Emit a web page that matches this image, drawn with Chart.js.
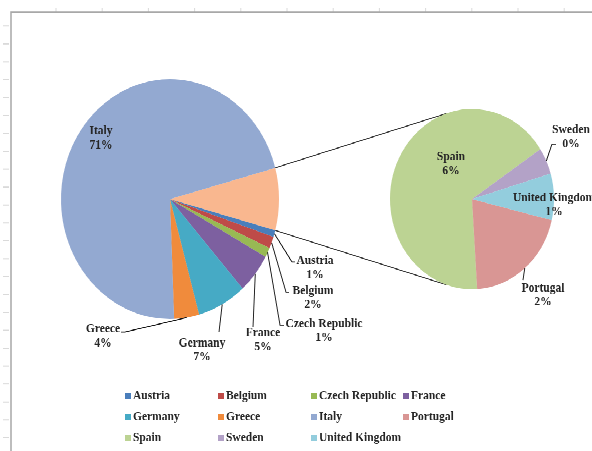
<!DOCTYPE html>
<html>
<head>
<meta charset="utf-8">
<script src="https://cdn.jsdelivr.net/npm/chart.js@4.4.1/dist/chart.umd.min.js"></script>
<style>
html, body { margin: 0; padding: 0; background: #fff; overflow: hidden; }
#page { position: relative; width: 592px; height: 451px; overflow: hidden; }
#wrap { position: absolute; left: 0; top: 0; width: 592px; height: 410px; transform: scaleY(1.1); transform-origin: 0 0; }
#wrap canvas { position: absolute; left: 0; top: 0; }
</style>
</head>
<body>
<div id="page">
<div id="wrap">
  <canvas id="mainPie" width="592" height="410"></canvas>
  <canvas id="subPie" width="592" height="410"></canvas>
</div>
</div>
<script>
// data (percent shares)
const mainLabels = ['Austria', 'Belgium', 'Czech Republic', 'France', 'Germany', 'Greece', 'Italy'];
const mainValues = [0.9, 1.6, 1.3, 5.4, 7.3, 3.7, 71.4];
const subLabels = ['Spain', 'Sweden', 'United Kingdom', 'Portugal'];
const subValues = [5.6, 0.4, 0.7, 1.7];
const legendLabels = ['Austria', 'Belgium', 'Czech Republic', 'France', 'Germany', 'Greece', 'Italy', 'Portugal', 'Spain', 'Sweden', 'United Kingdom'];

const colors = {
  'Austria': '#4a7ebb', 'Belgium': '#be4b48', 'Czech Republic': '#98b954', 'France': '#7d60a0',
  'Germany': '#46aac5', 'Greece': '#f08b3c', 'Italy': '#93a9d1', 'Portugal': '#d99694',
  'Spain': '#bcd393', 'Sweden': '#b3a2c7', 'United Kingdom': '#93cddd', 'Other': '#f9b78f'
};

const SY = 1.1; // page is stretched vertically
const py = y => y / SY;
const FONT = 'bold 11.5px "Liberation Serif", serif';
const INK = '#262626';

const otherTotal = subValues.reduce((a, b) => a + b, 0);
const grandTotal = mainValues.reduce((a, b) => a + b, 0) + otherTotal;
const pct = v => Math.round(v / grandTotal * 100) + '%';

// label spots in page pixels, with optional leader line bends
const spots = {
  'Italy': { x: 101, y: 131 },
  'Greece': { x: 103, y: 329, lead: [[125, 332], [121, 332]] },
  'Germany': { x: 202, y: 343, lead: [[219, 332]] },
  'France': { x: 263, y: 333, lead: [[253, 327]] },
  'Czech Republic': { x: 324, y: 324, lead: [[280, 325], [284, 325]] },
  'Belgium': { x: 313, y: 291, lead: [[286, 292], [289, 292]] },
  'Austria': { x: 315, y: 261, lead: [[292, 262], [295, 262]] },
  'Spain': { x: 451, y: 157 },
  'Sweden': { x: 571, y: 130, lead: [[552, 144], [556, 144]] },
  'United Kingdom': { x: 554, y: 198 },
  'Portugal': { x: 543, y: 288, lead: [[523, 280]] }
};

function drawLabels(chart, names, values) {
  const ctx = chart.ctx;
  const arcs = chart.getDatasetMeta(0).data;
  ctx.save();
  names.forEach((name, i) => {
    const s = spots[name];
    if (!s) return;
    const arc = arcs[i];
    if (s.lead) {
      const mid = (arc.startAngle + arc.endAngle) / 2;
      ctx.beginPath();
      ctx.moveTo(arc.x + Math.cos(mid) * arc.outerRadius, arc.y + Math.sin(mid) * arc.outerRadius);
      s.lead.forEach(p => ctx.lineTo(p[0], py(p[1])));
      ctx.strokeStyle = '#111';
      ctx.lineWidth = 0.9;
      ctx.stroke();
    }
    ctx.font = FONT;
    ctx.fillStyle = INK;
    ctx.textAlign = 'center';
    ctx.textBaseline = 'middle';
    ctx.fillText(name, s.x, py(s.y));
    ctx.fillText(pct(values[i]), s.x, py(s.y + 14));
  });
  ctx.restore();
}

const subChart = new Chart(document.getElementById('subPie'), {
  type: 'pie',
  data: {
    labels: subLabels,
    datasets: [{
      data: subValues,
      backgroundColor: subLabels.map(n => colors[n]),
      borderWidth: 0, hoverOffset: 0, hoverBorderWidth: 0,
      rotation: 176.4
    }]
  },
  options: {
    responsive: false, devicePixelRatio: 2, animation: false, events: [],
    layout: { padding: { left: 390, right: 38, top: 99, bottom: 147 } },
    plugins: { legend: { display: false }, tooltip: { enabled: false } }
  },
  plugins: [{
    id: 'subLabels',
    afterDatasetsDraw(chart) { drawLabels(chart, subLabels, subValues); }
  }]
});

const framePlugin = {
  id: 'frame',
  beforeDraw(chart) {
    const ctx = chart.ctx;
    ctx.save();
    ctx.fillStyle = '#fff';
    ctx.fillRect(0, 0, chart.width, chart.height);
    ctx.strokeStyle = '#dadada';
    ctx.lineWidth = 1;
    for (let x = 56; x < 592; x += 46.2) {
      ctx.beginPath(); ctx.moveTo(x, py(8)); ctx.lineTo(x, py(12)); ctx.stroke();
    }
    for (let y = 26; y < 445; y += 17.9) {
      ctx.beginPath(); ctx.moveTo(3, py(y)); ctx.lineTo(9, py(y)); ctx.stroke();
    }
    ctx.strokeStyle = '#a8a8a8';
    ctx.lineWidth = 1.5;
    ctx.beginPath();
    ctx.moveTo(11, py(451));
    ctx.lineTo(11, py(12));
    ctx.lineTo(592, py(12));
    ctx.stroke();
    ctx.restore();
  },
  afterDatasetsDraw(chart) {
    const ctx = chart.ctx;
    // connectors from the "other" slice to the second pie
    const other = chart.getDatasetMeta(0).data[0];
    const sub = subChart.getDatasetMeta(0).data[0];
    const a = 108 * Math.PI / 180;
    ctx.save();
    ctx.strokeStyle = '#333';
    ctx.lineWidth = 0.9;
    ctx.beginPath();
    ctx.moveTo(other.x + Math.cos(other.startAngle) * other.outerRadius, other.y + Math.sin(other.startAngle) * other.outerRadius);
    ctx.lineTo(sub.x + Math.cos(-a) * sub.outerRadius, sub.y + Math.sin(-a) * sub.outerRadius);
    ctx.moveTo(other.x + Math.cos(other.endAngle) * other.outerRadius, other.y + Math.sin(other.endAngle) * other.outerRadius);
    ctx.lineTo(sub.x + Math.cos(a) * sub.outerRadius, sub.y + Math.sin(a) * sub.outerRadius);
    ctx.stroke();
    ctx.restore();

    drawLabels(chart, ['Other'].concat(mainLabels), [otherTotal].concat(mainValues));

    // legend grid
    const colX = [125, 218, 311, 403];
    const rowY = [396, 417, 438];
    ctx.save();
    ctx.font = FONT;
    ctx.textAlign = 'left';
    ctx.textBaseline = 'middle';
    legendLabels.forEach((name, i) => {
      const x = colX[i % 4];
      const y = py(rowY[Math.floor(i / 4)]);
      ctx.fillStyle = colors[name];
      ctx.fillRect(x, y - 2.8, 6, 5.6);
      ctx.fillStyle = INK;
      ctx.fillText(name, x + 8, y);
    });
    ctx.restore();
  }
};

new Chart(document.getElementById('mainPie'), {
  type: 'pie',
  data: {
    labels: ['Other'].concat(mainLabels),
    datasets: [{
      data: [otherTotal].concat(mainValues),
      backgroundColor: ['Other'].concat(mainLabels).map(n => colors[n]),
      borderWidth: 0, hoverOffset: 0, hoverBorderWidth: 0,
      rotation: 90 - otherTotal / grandTotal * 180
    }]
  },
  options: {
    responsive: false, devicePixelRatio: 2, animation: false, events: [],
    layout: { padding: { left: 61, right: 313, top: 72, bottom: 120 } },
    plugins: { legend: { display: false }, tooltip: { enabled: false } }
  },
  plugins: [framePlugin]
});
</script>
</body>
</html>
